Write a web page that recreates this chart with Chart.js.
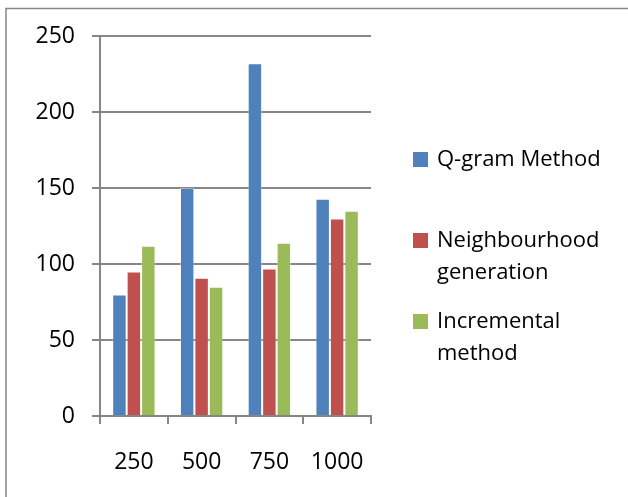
<!DOCTYPE html>
<html>
<head>
<meta charset="utf-8">
<script src="https://cdn.jsdelivr.net/npm/chart.js@4"></script>
<style>
  html, body { margin: 0; padding: 0; background: #fff; }
  #wrap { position: relative; width: 628px; height: 497px; }
</style>
</head>
<body>
<div id="wrap"><canvas id="barChart" width="628" height="497"></canvas></div>
<script>
// Chart data
const categories = ['250', '500', '750', '1000'];
const seriesNames = [['Q-gram Method'], ['Neighbourhood', 'generation'], ['Incremental', 'method']];
const qgramValues = [80, 150, 232, 143];
const neighbourValues = [95, 91, 97, 130];
const incrementalValues = [112, 85, 114, 135];
const yTicks = [0, 50, 100, 150, 200, 250];

const colors = ['#4F81BD', '#C0504D', '#9BBB59'];
const axisGray = '#868686';
const fontFamily = "'Open Sans', 'Liberation Sans', sans-serif";

/**
 * Outer frame (only top and left edges visible in the reference)
 */
const framePlugin = {
    id: 'frame',
    beforeDraw(chart) {
        const ctx = chart.ctx;
        ctx.save();
        ctx.strokeStyle = axisGray;
        ctx.lineWidth = 1.5;
        ctx.beginPath();
        ctx.moveTo(6, 497);
        ctx.lineTo(6, 8.5);
        ctx.lineTo(628, 8.5);
        ctx.stroke();
        ctx.restore();
    }
};

/**
 * Legend on the right with wrapped labels
 */
const sideLegend = {
    id: 'sideLegend',
    afterDraw(chart) {
        const ctx = chart.ctx;
        const rows = [[160], [241, 273], [322, 354]];
        ctx.save();
        ctx.font = '22px ' + fontFamily;
        ctx.textBaseline = 'middle';
        chart.data.datasets.forEach((ds, i) => {
            ctx.fillStyle = ds.backgroundColor;
            ctx.fillRect(413, rows[i][0] - 8, 15, 15);
            ctx.fillStyle = '#000';
            ds.legendLines.forEach((line, j) => {
                ctx.fillText(line, 437, rows[i][j]);
            });
        });
        ctx.restore();
    }
};

const datasets = [qgramValues, neighbourValues, incrementalValues].map((vals, i) => ({
    label: seriesNames[i].join(' '),
    legendLines: seriesNames[i],
    data: vals,
    backgroundColor: colors[i],
    borderColor: 'rgba(255,255,255,0.35)',
    borderWidth: { left: 1, right: 1, top: 1, bottom: 0 },
    categoryPercentage: 0.64,
    barPercentage: 1.0
}));

new Chart(document.getElementById('barChart').getContext('2d'), {
    type: 'bar',
    data: { labels: categories, datasets: datasets },
    options: {
        responsive: false,
        animation: false,
        layout: { padding: { top: 36, right: 257, left: 0, bottom: 0 } },
        plugins: {
            legend: { display: false },
            tooltip: { enabled: false }
        },
        scales: {
            x: {
                grid: {
                    display: true,
                    drawOnChartArea: false,
                    offset: true,
                    color: axisGray,
                    lineWidth: 2,
                    tickLength: 8
                },
                border: { color: axisGray, width: 2 },
                ticks: {
                    color: '#000',
                    font: { family: fontFamily, size: 23 },
                    padding: 25,
                    maxRotation: 0
                },
                afterFit(scale) { scale.height = 81; }
            },
            y: {
                min: 0,
                max: 250,
                afterBuildTicks(scale) {
                    scale.ticks = yTicks.map(v => ({ value: v }));
                },
                grid: {
                    color: axisGray,
                    lineWidth: 2,
                    tickLength: 8
                },
                border: { color: axisGray, width: 2 },
                ticks: {
                    color: '#000',
                    font: { family: fontFamily, size: 23 },
                    padding: 17
                },
                afterFit(scale) { scale.width = 100; }
            }
        }
    },
    plugins: [framePlugin, sideLegend]
});
</script>
</body>
</html>
